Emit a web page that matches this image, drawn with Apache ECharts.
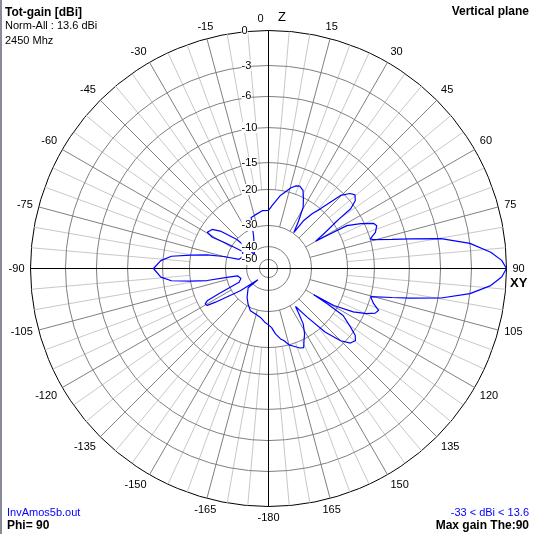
<!DOCTYPE html>
<html>
<head>
<meta charset="utf-8">
<script src="https://cdn.jsdelivr.net/npm/echarts@6/dist/echarts.min.js"></script>
<style>
html,body{margin:0;padding:0;background:#fff;}
#chart{width:534px;height:534px;}
</style>
</head>
<body>
<div id="chart"></div>
<script>
// ---- data (theta in degrees clockwise from Z, gain in dB relative to max) ----
const thetaDeg = [0,3.4,6,9.3,12.5,15.6,18.5,20.8,23.8,26.5,29.5,32.5,35.2,36.3,38.5,41,44.6,47.4,49.6,52,54,55,57.9,59.9,
  60.6,61.3,64.1,66.7,68.4,71.3,73.8,74.6,76.7,78.2,80.2,82.9,85.8,88,90,92.1,94.4,97.1,99.7,101.8,103.2,105.4,
  108.5,110.8,112.7,114.7,117.1,119.5,120.2,121,122.2,125.6,127.6,129.6,132.3,135,138.3,141.5,144.6,146.2,147.9,
  151.1,153.9,156,158.5,162,165,168,170.3,173.9,177,180,184,189.3,196,203.2,210,216.6,226.5,223.3,231.8,237.6,
  238.9,240.8,242.2,243,245,250,256.7,258.1,258.9,260.8,262.8,265.4,270,274.2,277.2,279.8,282.6,285,287.3,295,
  303.4,300.9,299.1,300.6,304.7,307.8,312.5,315,334.8,341.2,345.2,353.8,360];
const gainDb = [-25.8,-24.4,-23.2,-21.4,-20.1,-19.1,-18.5,-18.3,-18.8,-20.2,-22.4,-26.5,-29.8,-25.4,-22.5,-20,-15.6,-14.3,-13.9,-14.4,-15.8,-18.7,-23.8,-26.8,
  -23.3,-18.1,-15.6,-13.8,-13.5,-14,-15,-14.6,-12,-9.5,-5.7,-3,-1.3,-0.4,0,-0.4,-1.3,-3,-5.7,-9.5,-12,-15,
  -14.3,-13.3,-13.6,-14.7,-17,-21.1,-27.4,-22.9,-18.3,-15.9,-14.5,-14,-14.3,-15.7,-18.8,-24.7,-29,-26.8,-23.8,
  -21.2,-19.7,-18.6,-18.8,-19.5,-20,-21.5,-22.1,-23.7,-25.5,-26.3,-27,-28.2,-28.8,-29.2,-31,-33.4,-37.1,-45,-33.4,-24.5,
  -22.1,-21.8,-22.7,-26.6,-35,-36.5,-35.3,-30.2,-24.6,-20,-16.5,-14.7,-13.7,-14.7,-16.5,-20,-24.5,-29.1,-35.8,-37,
  -35.7,-28.6,-24.1,-22.2,-22.9,-25,-30.1,-41.6,-33.9,-27,-26.7,-25.8,-25.8];

// radial scale rings (dB) and their labels
const ringDb = [0,-3,-6,-10,-15,-20,-30,-40,-50];
const ringLabels = ['0','-3','-6','-10','-15','-20','-30','-40','-50'];
// nonlinear radial scale: fraction of full radius for each ring dB
const ringFrac = [1,0.853,0.723,0.592,0.445,0.332,0.181,0.092,0.038];

const angleTicks = 15;   // dark spokes / labels
const minorTicks = 5;    // light spokes

const titleLines = ['Tot-gain [dBi]','Norm-All : 13.6 dBi','2450 Mhz'];
const planeText = 'Vertical plane';
const fileText = 'InvAmos5b.out';
const phiText = 'Phi= 90';
const rangeText = '-33 < dBi < 13.6';
const maxText = 'Max gain The:90';

function dbToR(db){
  if (db >= 0) return 1;
  for (let i = 0; i < ringDb.length - 1; i++){
    const a = ringDb[i], b = ringDb[i+1];
    if (db <= a && db >= b){
      const t = (a - db) / (a - b);
      return ringFrac[i] + t * (ringFrac[i+1] - ringFrac[i]);
    }
  }
  const last = ringFrac[ringFrac.length-1];
  return Math.max(0, last * (1 - (-50 - db) / 10));
}

const curve = thetaDeg.map((t, i) => [dbToR(gainDb[i]), t]);

const FONT = '"Liberation Sans", Arial, sans-serif';

function renderGrid(params, api){
  const c = api.coord([0, 0]);
  const ch = [];
  const seg = (r1, r2, a, color) => {
    const p1 = api.coord([r1, a]), p2 = api.coord([r2, a]);
    ch.push({type:'line', shape:{x1:p1[0],y1:p1[1],x2:p2[0],y2:p2[1]}, style:{stroke:color, lineWidth:1}});
  };
  for (let a = 0; a < 360; a += minorTicks){
    if (a % angleTicks === 0) continue;
    seg(dbToR(-20), 1, a, '#c8c8c8');
  }
  for (let a = 0; a < 360; a += angleTicks){
    if (a % 90 === 0) continue;
    seg(dbToR(-30), 1, a, '#808080');
  }
  ringDb.slice(1).forEach(db => {
    const p = api.coord([dbToR(db), 90]);
    const r = Math.hypot(p[0]-c[0], p[1]-c[1]);
    ch.push({type:'circle', shape:{cx:c[0], cy:c[1], r:r}, style:{fill:null, stroke:'#808080', lineWidth:1}});
  });
  [0, 90].forEach(a => {
    const p1 = api.coord([1, a]), p2 = api.coord([1, a + 180]);
    ch.push({type:'line', shape:{x1:p1[0],y1:p1[1],x2:p2[0],y2:p2[1]}, style:{stroke:'#000', lineWidth:1}});
  });
  return {type:'group', children:ch};
}

function renderRingLabels(params, api){
  const ch = [];
  ringDb.forEach((db, i) => {
    const p = api.coord([dbToR(db), 0]);
    ch.push({type:'text', x:p[0]-27, y:p[1], style:{text:ringLabels[i], fill:'#000', font:'11px ' + FONT,
      align:'left', verticalAlign:'middle', backgroundColor:'#fff'}});
  });
  return {type:'group', children:ch};
}

const chart = echarts.init(document.getElementById('chart'), null, {renderer:'canvas'});
chart.setOption({
  animation:false,
  backgroundColor:'#fff',
  polar:{center:[268.5,268.5], radius:238},
  radiusAxis:{type:'value', min:0, max:1, axisLine:{show:false}, axisTick:{show:false}, axisLabel:{show:false}, splitLine:{show:false}},
  angleAxis:{type:'value', min:0, max:360, interval:angleTicks, startAngle:90, clockwise:true,
    axisLine:{show:true, lineStyle:{color:'#000', width:1}},
    axisTick:{show:false}, splitLine:{show:false},
    axisLabel:{show:true, color:'#000', fontSize:11, fontFamily:FONT, margin:6,
      formatter: v => v === 0 ? '0{g| }' : (v === 180 ? '-180' : String(v < 180 ? v : v - 360)),
      rich:{g:{width:16}}}
  },
  graphic:[
    {type:'rect', shape:{x:0,y:0,width:2,height:534}, style:{fill:'#8a8a9a'}},
    {type:'text', x:5, y:12.5, style:{text:titleLines[0], font:'bold 12px ' + FONT, fill:'#000', verticalAlign:'middle'}},
    {type:'text', x:5, y:26, style:{text:titleLines[1], font:'11px ' + FONT, fill:'#000', verticalAlign:'middle'}},
    {type:'text', x:5, y:41, style:{text:titleLines[2], font:'11px ' + FONT, fill:'#000', verticalAlign:'middle'}},
    {type:'text', x:529, y:12, style:{text:planeText, font:'bold 12px ' + FONT, fill:'#000', align:'right', verticalAlign:'middle'}},
    {type:'text', x:7, y:512.5, style:{text:fileText, font:'11px ' + FONT, fill:'#0000ff', verticalAlign:'middle'}},
    {type:'text', x:7, y:526, style:{text:phiText, font:'bold 12px ' + FONT, fill:'#000', verticalAlign:'middle'}},
    {type:'text', x:529, y:512.5, style:{text:rangeText, font:'11px ' + FONT, fill:'#0000ff', align:'right', verticalAlign:'middle'}},
    {type:'text', x:529, y:526, style:{text:maxText, font:'bold 12px ' + FONT, fill:'#000', align:'right', verticalAlign:'middle'}},
    {type:'text', x:278, y:17, style:{text:'Z', font:'13px ' + FONT, fill:'#000', verticalAlign:'middle'}},
    {type:'text', x:510, y:283, style:{text:'XY', font:'bold 13px ' + FONT, fill:'#000', verticalAlign:'middle'}}
  ],
  series:[
    {type:'custom', coordinateSystem:'polar', renderItem:renderGrid, data:[[0,0]], z:1, silent:true, clip:false},
    {type:'line', coordinateSystem:'polar', data:curve, symbol:'none', smooth:false, z:3,
      lineStyle:{color:'#0000ff', width:1.2}},
    {type:'custom', coordinateSystem:'polar', renderItem:renderRingLabels, data:[[0,0]], z:4, silent:true, clip:false}
  ]
});
</script>
</body>
</html>
